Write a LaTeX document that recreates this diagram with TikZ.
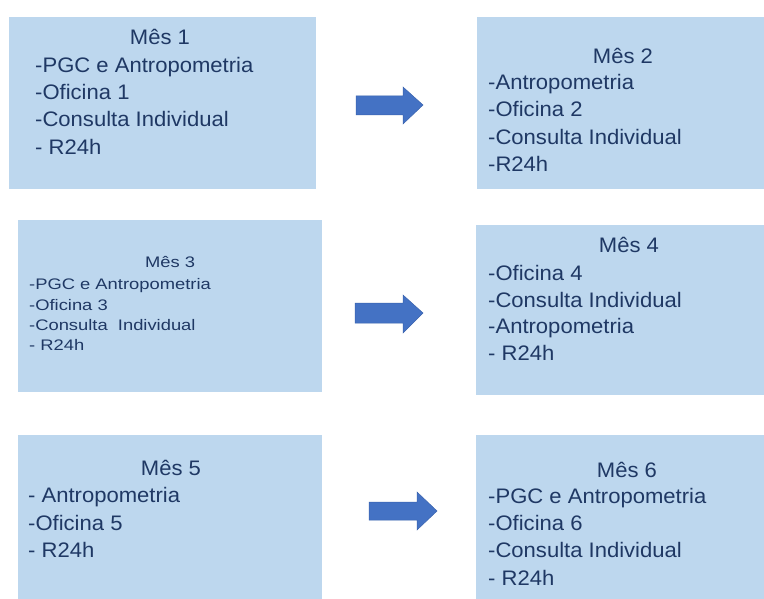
\documentclass[tikz,border=0pt]{standalone}
\usepackage{fontspec}
\setmainfont{Liberation Sans}
\newfontfamily\bigfam[FakeStretch=1.05]{Liberation Sans}
\newfontfamily\smallfam[FakeStretch=1.2]{Liberation Sans}
\definecolor{boxfill}{HTML}{BDD7EE}
\definecolor{txt}{HTML}{1F3864}
\definecolor{arrowfill}{HTML}{4472C4}
\definecolor{arrowline}{HTML}{3A63AE}
\begin{document}
\begin{tikzpicture}[x=1pt,y=-1pt,
  panel/.style={fill=boxfill, draw=none},
  big/.style={font=\bigfam\fontsize{21}{24}\selectfont, text=txt, inner sep=0pt},
  small/.style={font=\smallfam\fontsize{15.3}{18}\selectfont, text=txt, inner sep=0pt},
  arrowshape/.style={fill=arrowfill, draw=arrowline, line width=0.5pt}]
\useasboundingbox (0,0) rectangle (764,599);
\fill[white] (0,0) rectangle (764,599);
% boxes
\path[panel] (9,17) rectangle (316,189) coordinate (b1);
\path[panel] (477,17) rectangle (764,189) coordinate (b2);
\path[panel] (18,220) rectangle (322,392) coordinate (b3);
\path[panel] (476,225) rectangle (764,395) coordinate (b4);
\path[panel] (18,435) rectangle (322,599) coordinate (b5);
\path[panel] (476,435) rectangle (764,599) coordinate (b6);
% box 1
\node[big, anchor=base] (t1) at (160,45) {Mês 1};
\node[big, anchor=base west] (t1a) at (35,73) {-PGC e Antropometria};
\node[big, anchor=base west] (t1b) at (35,100) {-Oficina 1};
\node[big, anchor=base west] (t1c) at (35,127) {-Consulta Individual};
\node[big, anchor=base west] (t1d) at (35,155) {- R24h};
% box 2
\node[big, anchor=base] (t2) at (623,64) {Mês 2};
\node[big, anchor=base west] (t2a) at (488,90) {-Antropometria};
\node[big, anchor=base west] (t2b) at (488,117) {-Oficina 2};
\node[big, anchor=base west] (t2c) at (488,145) {-Consulta Individual};
\node[big, anchor=base west] (t2d) at (488,172) {-R24h};
% box 3
\node[small, anchor=base] (t3) at (170,268) {Mês 3};
\node[small, anchor=base west] (t3a) at (29,290) {-PGC e Antropometria};
\node[small, anchor=base west] (t3b) at (29,310) {-Oficina 3};
\node[small, anchor=base west] (t3c) at (29,330) {-Consulta\ \ Individual};
\node[small, anchor=base west] (t3d) at (29,350) {- R24h};
% box 4
\node[big, anchor=base] (t4) at (629,252) {Mês 4};
\node[big, anchor=base west] (t4a) at (488,280) {-Oficina 4};
\node[big, anchor=base west] (t4b) at (488,307) {-Consulta Individual};
\node[big, anchor=base west] (t4c) at (488,333) {-Antropometria};
\node[big, anchor=base west] (t4d) at (488,360) {- R24h};
% box 5
\node[big, anchor=base] (t5) at (171,475) {Mês 5};
\node[big, anchor=base west] (t5a) at (28,502) {- Antropometria};
\node[big, anchor=base west] (t5b) at (28,530) {-Oficina 5};
\node[big, anchor=base west] (t5c) at (28,557) {- R24h};
% box 6
\node[big, anchor=base] (t6) at (627,477) {Mês 6};
\node[big, anchor=base west] (t6a) at (488,503) {-PGC e Antropometria};
\node[big, anchor=base west] (t6b) at (488,530) {-Oficina 6};
\node[big, anchor=base west] (t6c) at (488,557) {-Consulta Individual};
\node[big, anchor=base west] (t6d) at (488,585) {- R24h};
% arrows
\path[arrowshape] (356,96) -- (403,96) -- (403,87) -- (423,105) -- (403,124) -- (403,115) -- (356,115) -- cycle;
\path[arrowshape] (355,303) -- (403,303) -- (403,295) -- (423,313) -- (403,333) -- (403,323) -- (355,323) -- cycle;
\path[arrowshape] (369,502) -- (417,502) -- (417,492) -- (437,511) -- (417,530) -- (417,520) -- (369,520) -- cycle;
\end{tikzpicture}
\end{document}
